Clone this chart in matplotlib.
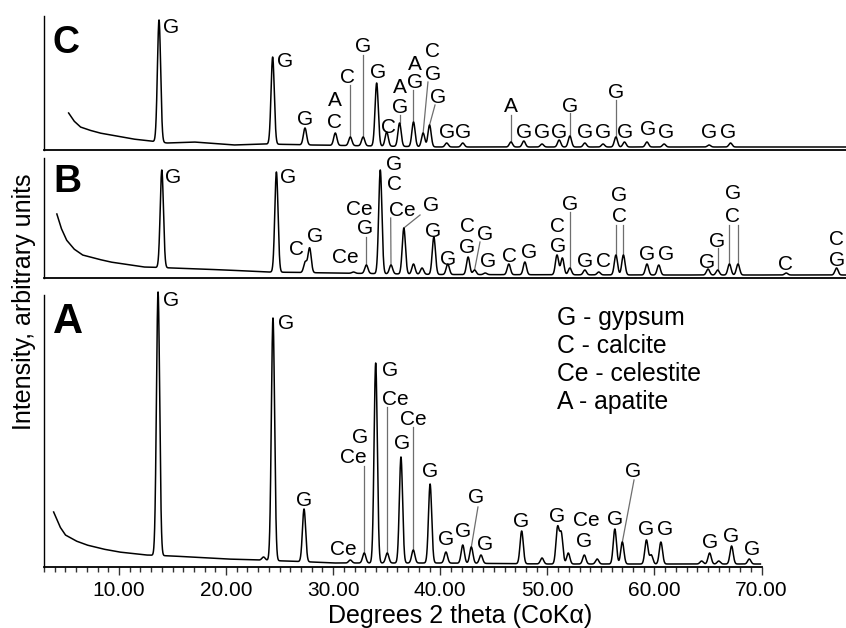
import numpy as np
import matplotlib
matplotlib.use("Agg")
import matplotlib.pyplot as plt
from matplotlib.ticker import MultipleLocator, FormatStrFormatter

plt.rcParams['font.family'] = ['Liberation Sans', 'DejaVu Sans']

# ---------------- data (2-theta in degrees, intensity in arbitrary units) -------------
# Panel A
A_bg_x = [3.9, 4.5, 5.0, 6.0, 7.0, 8.5, 10.0, 12.5, 15.0, 20.0, 23.0, 28.0, 30.0, 40.0, 50.0, 70.0]
A_bg_y = [55, 40, 32, 26, 22, 18, 15, 12, 11, 8, 7, 5, 4, 4, 3, 3]
A_pk_x = [13.65, 23.5, 24.38, 27.28, 31.6, 32.9, 33.97, 35.05, 36.33, 37.48, 39.05, 40.53,
          42.1, 42.9, 43.8, 47.6, 49.5, 50.95, 51.3, 51.95, 53.45, 54.65, 56.3, 57.0,
          59.25, 59.7, 60.6, 64.4, 65.15, 66.0, 67.2, 68.85]
A_pk_y = [275, 10, 249, 58, 7, 14, 204, 14, 110, 17, 83, 15,
          22, 20, 12, 36, 9, 39, 33, 14, 12, 8, 38, 25,
          27, 12, 25, 6, 14, 6, 21, 8]
A_lab_t = ["G", "G", "G", "Ce", "G", "Ce", "G", "Ce", "G", "Ce", "G", "G", "G", "G", "G",
           "G", "G", "Ce", "G", "G", "G", "G", "G", "G", "G", "G"]
A_lab_x = [14.86, 25.60, 27.28, 30.92, 32.51, 31.85, 35.31, 35.77, 36.43, 37.45, 39.04, 40.54,
           42.17, 43.34, 44.18, 47.54, 50.90, 53.61, 53.42, 56.32, 58.00, 59.21, 60.98,
           65.19, 67.15, 69.11]
A_lab_y = [261, 238, 61, 12, 124, 104, 191, 162, 118, 142, 90, 22,
           30, 64, 17, 40, 45, 41, 20, 42, 90, 32, 32, 19, 25, 12]
A_ld_from = [32.9, 35.05, 37.48, 42.9, 57.0]
A_ld_to_x = [32.9, 35.05, 37.48, 43.52, 58.09]
A_ld_to_y = [101, 160, 140, 60, 87]

# Panel B
B_bg_x = [4.2, 4.6, 5.1, 5.8, 6.6, 8.0, 9.2, 12.3, 15.0, 20.0, 23.8, 30.0, 40.0, 60.0, 78.0]
B_bg_y = [64, 50, 38, 29, 23, 19, 16, 11, 10, 8, 6, 5, 3.5, 3, 3]
B_pk_x = [14.0, 24.7, 27.4, 27.8, 31.9, 33.1, 34.4, 35.4, 36.6, 37.5, 38.3, 39.4, 40.7,
          42.6, 43.2, 44.2, 46.4, 47.9, 50.9, 51.4, 52.1, 53.5, 54.8, 56.4, 57.1,
          59.3, 60.4, 65.0, 65.9, 67.0, 67.8, 72.3, 77.0]
B_pk_y = [108, 106, 16, 30, 6, 13, 108, 13, 50, 14, 10, 41, 14,
          21, 8, 5, 14, 16, 23, 20, 10, 8, 6, 23, 23,
          14, 13, 9, 8, 14, 14, 5, 10]
B_lab_t = ["G", "G", "C", "G", "Ce", "Ce", "G", "G", "C", "Ce", "G", "G", "G", "C", "G",
           "G", "G", "C", "G", "C", "G", "G", "G", "C", "G", "C", "G", "G", "G", "G",
           "G", "C", "C", "C", "G"]
B_lab_x = [15.04, 25.78, 26.62, 28.30, 31.10, 32.41, 32.97, 35.68, 35.68, 36.43, 39.13,
           39.32, 40.72, 42.50, 42.50, 44.18, 44.46, 46.42, 48.29, 50.99, 50.99, 52.11,
           53.51, 55.20, 56.69, 56.69, 59.30, 61.08, 64.91, 65.84, 67.33, 67.33, 72.28,
           77.04, 77.04]
B_lab_y = [95, 95, 23, 36, 15, 63, 44, 108, 88, 62, 67, 41, 13, 46, 25, 38, 11, 16, 20,
           46, 26, 68, 11, 11, 77, 56, 18, 18, 10, 31, 79, 56, 8, 33, 12]
B_ld_from = [33.1, 35.4, 36.6, 43.2, 52.1, 56.4, 57.1, 65.9, 67.0, 67.8]
B_ld_to_x = [33.1, 35.37, 38.11, 43.71, 52.1, 56.4, 57.1, 65.9, 67.0, 67.8]
B_ld_to_y = [41, 60, 63, 36, 66, 53, 53, 30, 53, 53]

# Panel C
C_bg_x = [5.3, 5.8, 6.4, 7.2, 8.2, 11.3, 12.9, 14.5, 17.0, 20.7, 23.8, 28.0, 40.0, 78.0]
C_bg_y = [37, 29, 23, 20, 17, 11, 9, 7, 8, 5, 6, 5, 3, 3]
C_pk_x = [13.74, 24.35, 27.37, 30.2, 31.6, 32.8, 34.06, 35.0, 36.2, 37.5, 38.4, 39.0,
          40.6, 42.1, 46.6, 47.8, 49.5, 51.1, 52.1, 53.5, 55.2, 56.4, 57.2, 59.3,
          60.9, 65.1, 67.1]
C_pk_y = [130, 93, 22, 17, 13, 13, 67, 18, 27, 28, 17, 25,
          7, 7, 8, 9, 6, 10, 14, 7, 6, 13, 8, 8,
          6, 5, 7]
C_lab_t = ["G", "G", "G", "A", "C", "C", "G", "G", "C", "A", "G", "A", "G", "C", "G",
           "G", "G", "G", "A", "G", "G", "G", "G", "G", "G", "G", "G", "G", "G", "G", "G"]
C_lab_x = [14.86, 25.50, 27.37, 30.17, 30.17, 31.38, 32.79, 34.19, 35.12, 36.24, 36.24,
           37.64, 37.64, 39.32, 39.32, 39.79, 40.63, 42.12, 46.61, 47.82, 49.50, 51.09,
           52.11, 53.51, 55.20, 56.41, 57.25, 59.40, 61.08, 65.10, 66.87]
C_lab_y = [117, 83, 25, 44, 22, 67, 98, 72, 17, 57, 37, 80, 62, 93, 70, 47, 12, 12,
           38, 12, 12, 12, 38, 12, 12, 52, 12, 15, 12, 12, 12]
C_ld_from = [31.6, 32.8, 36.2, 37.5, 38.4, 39.0, 46.6, 52.1, 56.4]
C_ld_to_x = [31.6, 32.8, 36.2, 37.5, 38.85, 39.51, 46.6, 52.1, 56.4]
C_ld_to_y = [65, 95, 35, 60, 68, 45, 35, 37, 50]

legend_lines = ["G - gypsum", "C - calcite", "Ce - celestite", "A - apatite"]

# ---------------- layout -----------------
W, H = 846, 628
PXDEG = 10.71
fig = plt.figure(figsize=(W / 100, H / 100), dpi=100)


def ax_at(left, right, top, bottom):
    ax = fig.add_axes([left / W, (H - bottom) / H, (right - left) / W, (bottom - top) / H])
    ax.set_xlim(3, 3 + (right - left) / PXDEG)
    ax.set_ylim(0, bottom - top)
    ax.set_facecolor('none')
    for s in ('top', 'right'):
        ax.spines[s].set_visible(False)
    ax.spines['bottom'].set_linewidth(1.3)
    ax.spines['left'].set_linewidth(1.0)
    ax.set_yticks([])
    return ax


SIG = 0.15


def draw(ax, bgx, bgy, pkx, pky, xend, lt, lx, ly, ldf, ldx, ldy):
    x = np.arange(bgx[0], xend, 0.01)
    y = np.interp(x, bgx, bgy)
    for p, h in zip(pkx, pky):
        amp = h - np.interp(p, bgx, bgy)
        y = y + amp * np.exp(-0.5 * ((x - p) / SIG) ** 2)
    ax.plot(x, y, color='black', lw=1.1, clip_on=False, zorder=3)
    for f, tx, ty in zip(ldf, ldx, ldy):
        y0 = np.interp(f, x, y)
        ax.plot([f, tx], [y0, ty], color='#6e6e6e', lw=0.9, zorder=2)
    for t, tx, ty in zip(lt, lx, ly):
        ax.text(tx, ty, t, ha='center', va='baseline', fontsize=15, color='black')


axC = ax_at(44, 846, 16, 150)
axB = ax_at(44, 846, 158, 278)
axA = ax_at(44, 44 + 67 * PXDEG, 295, 567)

for ax in (axB, axC):
    ax.tick_params(bottom=False, labelbottom=False, left=False, labelleft=False)

axA.xaxis.set_major_locator(MultipleLocator(10))
axA.xaxis.set_minor_locator(MultipleLocator(1))
axA.xaxis.set_major_formatter(FormatStrFormatter('%.2f'))
axA.tick_params(axis='x', which='major', direction='out', length=6, width=1.0,
                labelsize=15, pad=4, color='#333333')
axA.tick_params(axis='x', which='minor', direction='out', length=3.6, width=1.0,
                color='#333333')
axA.tick_params(left=False, labelleft=False)

draw(axA, A_bg_x, A_bg_y, A_pk_x, A_pk_y, 69.9, A_lab_t, A_lab_x, A_lab_y,
     A_ld_from, A_ld_to_x, A_ld_to_y)
draw(axB, B_bg_x, B_bg_y, B_pk_x, B_pk_y, 77.88, B_lab_t, B_lab_x, B_lab_y,
     B_ld_from, B_ld_to_x, B_ld_to_y)
draw(axC, C_bg_x, C_bg_y, C_pk_x, C_pk_y, 77.88, C_lab_t, C_lab_x, C_lab_y,
     C_ld_from, C_ld_to_x, C_ld_to_y)

# legend block
for i, s in enumerate(legend_lines):
    axA.text(50.90, 242 - 28 * i, s, ha='left', va='baseline', fontsize=17.8)

# panel letters
fig.text(53 / W, (H - 333) / H, "A", fontsize=30, fontweight='bold', va='baseline', ha='left')
fig.text(53 / W, (H - 192) / H, "B", fontsize=28, fontweight='bold', va='baseline', ha='left')
fig.text(52 / W, (H - 53) / H, "C", fontsize=27, fontweight='bold', va='baseline', ha='left')

# axis titles
fig.text(460 / W, (H - 623) / H, "Degrees 2 theta (CoKα)", fontsize=18,
         ha='center', va='baseline')
fig.text(24 / W, (H - 302) / H, "Intensity, arbitrary units", fontsize=18,
         rotation=90, ha='center', va='center')

fig.savefig("out.png", dpi=100)
